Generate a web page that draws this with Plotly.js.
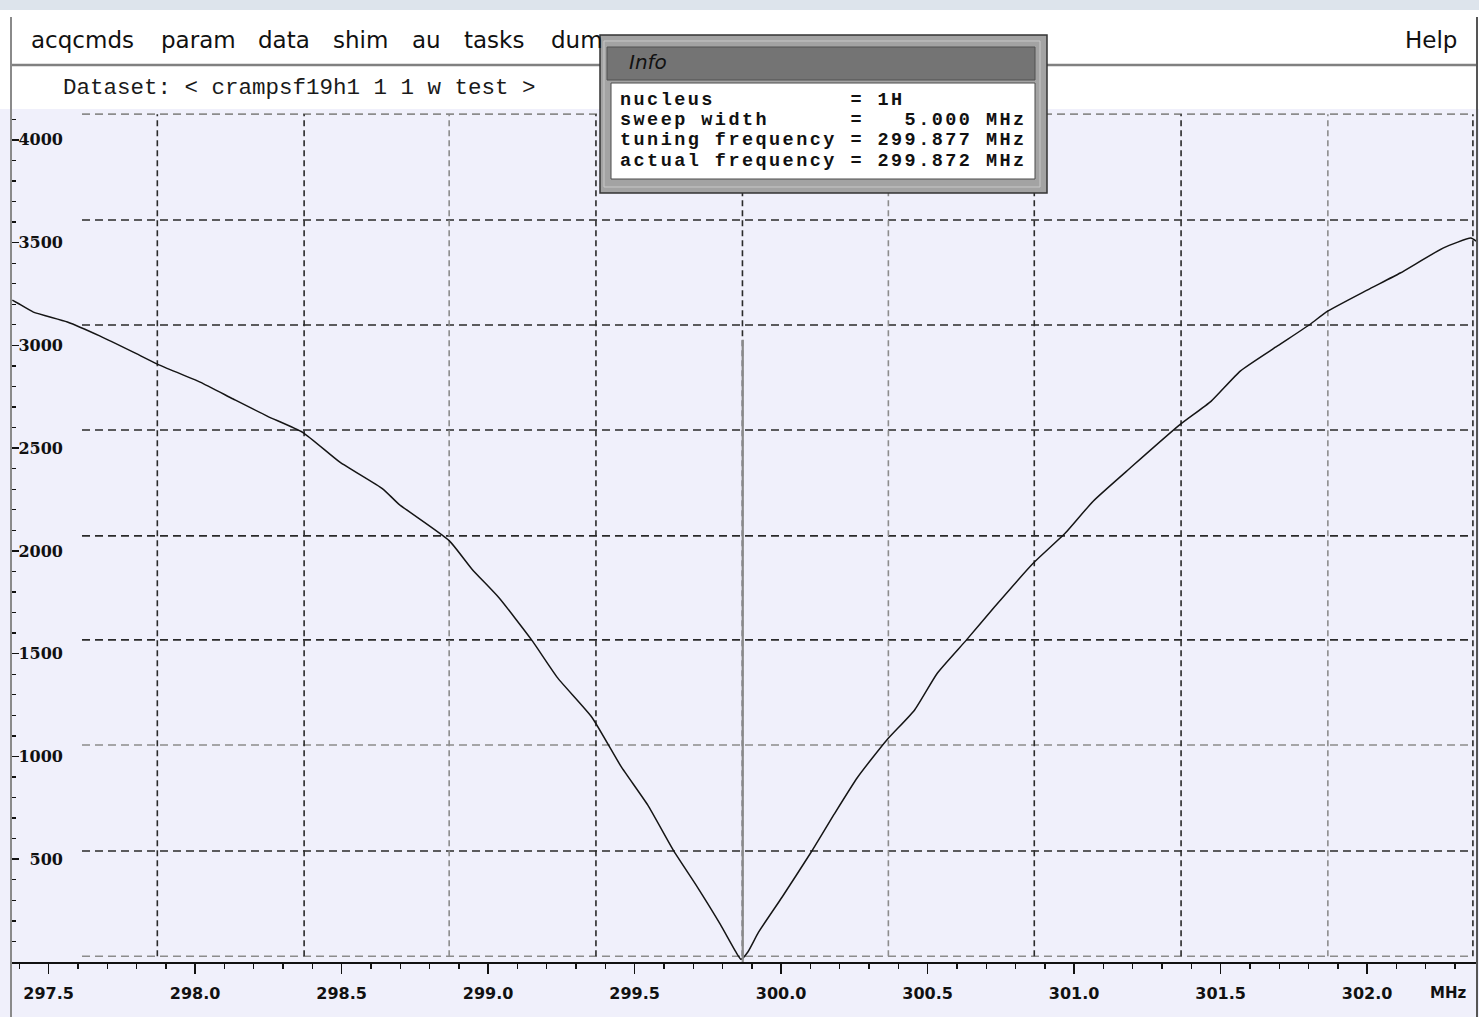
<!DOCTYPE html>
<html>
<head>
<meta charset="utf-8">
<script src="https://cdn.plot.ly/plotly-3.0.1.min.js"></script>
<style>
html,body{margin:0;padding:0;background:#f0f0fb;overflow:hidden}
#chart{width:1479px;height:1017px}
</style>
</head>
<body>
<div id="chart"></div>
<script>
// ---------------- data ----------------
const freqMHz = [
  297.376, 297.395, 297.448, 297.564, 297.676, 297.789, 297.871, 298.017, 298.130, 298.246,
  298.368, 298.494, 298.641, 298.695, 298.867, 298.945, 299.037, 299.149, 299.238, 299.354,
  299.453, 299.545, 299.634, 299.712, 299.792, 299.845, 299.863,
  299.887, 299.923, 300.003, 300.100, 300.181, 300.261, 300.360, 300.455, 300.533, 300.632,
  300.728, 300.861, 300.970, 301.065, 301.195, 301.359, 301.468, 301.567, 301.694, 301.807,
  301.860, 302.000, 302.113, 302.259, 302.354, 302.372
];
const wobbleSignal = [
  3220, 3205, 3162, 3114, 3045, 2967, 2909, 2821, 2739, 2656,
  2576, 2432, 2301, 2228, 2050, 1911, 1772, 1566, 1381, 1191,
  953, 763, 539, 369, 184, 50, 13,
  50, 145, 315, 529, 719, 899, 1079, 1225, 1405, 1566,
  1727, 1941, 2087, 2242, 2408, 2612, 2729, 2875, 2997, 3104,
  3162, 3269, 3352, 3473, 3522, 3507
];
const tuningMarkerFreq = 299.869;
const tuningMarkerTop = 3027;

const xTickValues = [297.5, 298.0, 298.5, 299.0, 299.5, 300.0, 300.5, 301.0, 301.5, 302.0];
const xTickLabels = ['297.5', '298.0', '298.5', '299.0', '299.5', '300.0', '300.5', '301.0', '301.5', '302.0'];
const yTickValues = [500, 1000, 1500, 2000, 2500, 3000, 3500, 4000];
const yTickLabels = ['500', '1000', '1500', '2000', '2500', '3000', '3500', '4000'];
const xUnitLabel = 'MHz';

const gridFreqMHz = [297.871, 298.372, 298.867, 299.368, 299.868, 300.366, 300.864, 301.365, 301.866, 302.361];
const gridSignal = [4125, 3610, 3099, 2588, 2073, 1567, 1056, 540, 28];

const menuItems = ['acqcmds', 'param', 'data', 'shim', 'au', 'tasks', 'dum'];
const helpItem = 'Help';
const datasetText = 'Dataset: < crampsf19h1 1 1 w test >';
const infoTitle = 'Info';
const infoLines = [
  'nucleus          = 1H',
  'sweep width      =   5.000 MHz',
  'tuning frequency = 299.877 MHz',
  'actual frequency = 299.872 MHz'
];

// ---------------- layout helpers (pixel -> paper) ----------------
const W = 1479, H = 1017;
const M = {l: 12, r: 2, t: 109, b: 55};
const PW = W - M.l - M.r, PH = H - M.t - M.b;
const PX = px => (px - M.l) / PW;
const PY = py => (H - M.b - py) / PH;

const shapes = [];
const annotations = [];

// window chrome
shapes.push({type: 'rect', xref: 'paper', yref: 'paper', x0: PX(0), x1: PX(W), y0: PY(0), y1: PY(10),
  fillcolor: '#dde4ec', line: {width: 0}, layer: 'above'});
shapes.push({type: 'rect', xref: 'paper', yref: 'paper', x0: PX(0), x1: PX(W), y0: PY(10), y1: PY(M.t),
  fillcolor: '#ffffff', line: {width: 0}, layer: 'above'});
shapes.push({type: 'line', xref: 'paper', yref: 'paper', x0: PX(11), x1: PX(1477), y0: PY(65), y1: PY(65),
  line: {color: '#808080', width: 2.5}, layer: 'above'});
shapes.push({type: 'line', xref: 'paper', yref: 'paper', x0: PX(11), x1: PX(11), y0: PY(17), y1: PY(H),
  line: {color: '#8a8a8a', width: 2}, layer: 'above'});
shapes.push({type: 'line', xref: 'paper', yref: 'paper', x0: PX(1477), x1: PX(1477), y0: PY(17), y1: PY(H),
  line: {color: '#555555', width: 2}, layer: 'above'});

// dashed grid (instrument screen divisions)
const lightV = new Set([2, 5, 8]);
const lightH = new Set([0, 6, 8]);
gridFreqMHz.forEach((f, i) => {
  shapes.push({type: 'line', xref: 'x', yref: 'y', x0: f, x1: f,
    y0: gridSignal[gridSignal.length - 1], y1: gridSignal[0],
    line: {color: lightV.has(i) ? '#8c8c8c' : '#2a2a2a', width: 1.6, dash: '6px,4px'}, layer: 'below'});
});
gridSignal.forEach((s, i) => {
  shapes.push({type: 'line', xref: 'paper', yref: 'y', x0: PX(82), x1: PX(1472), y0: s, y1: s,
    line: {color: lightH.has(i) ? '#8c8c8c' : '#2a2a2a', width: 1.6, dash: '8px,5px'}, layer: 'below'});
});

// Info box
shapes.push({type: 'rect', xref: 'paper', yref: 'paper', x0: PX(600), x1: PX(1047), y0: PY(193), y1: PY(35),
  fillcolor: '#a3a3a3', line: {color: '#333333', width: 1.5}, layer: 'above'});
shapes.push({type: 'rect', xref: 'paper', yref: 'paper', x0: PX(604), x1: PX(1040), y0: PY(187), y1: PY(41),
  fillcolor: 'rgba(0,0,0,0)', line: {color: '#c8c8c8', width: 1}, layer: 'above'});
shapes.push({type: 'rect', xref: 'paper', yref: 'paper', x0: PX(607), x1: PX(1035), y0: PY(80), y1: PY(47),
  fillcolor: '#747474', line: {color: '#505050', width: 1}, layer: 'above'});
shapes.push({type: 'rect', xref: 'paper', yref: 'paper', x0: PX(611), x1: PX(1035), y0: PY(179), y1: PY(83),
  fillcolor: '#ffffff', line: {color: '#4a4a4a', width: 1}, layer: 'above'});

const nb = s => s.replace(/ /g, '\u00A0');

// menu bar texts
const menuX = [30, 160, 257, 332, 411, 463, 550];
menuItems.forEach((m, i) => {
  annotations.push({xref: 'paper', yref: 'paper', x: PX(menuX[i]), y: PY(40), xanchor: 'left', yanchor: 'middle',
    text: m, showarrow: false, borderpad: 0, font: {family: 'DejaVu Sans', size: 23, color: '#111111'}});
});
annotations.push({xref: 'paper', yref: 'paper', x: PX(1404), y: PY(40), xanchor: 'left', yanchor: 'middle',
  text: helpItem, showarrow: false, borderpad: 0, font: {family: 'DejaVu Sans', size: 23, color: '#111111'}});
annotations.push({xref: 'paper', yref: 'paper', x: PX(62), y: PY(88), xanchor: 'left', yanchor: 'middle',
  text: nb(datasetText), showarrow: false, borderpad: 0,
  font: {family: 'Liberation Mono', size: 22.5, color: '#1a1a1a'}});
annotations.push({xref: 'paper', yref: 'paper', x: PX(628), y: PY(62), xanchor: 'left', yanchor: 'middle',
  text: infoTitle, showarrow: false, borderpad: 0,
  font: {family: 'DejaVu Sans', size: 20, color: '#111111', style: 'italic'}});
const infoY = [100, 120.5, 141, 161.5];
infoLines.forEach((t, i) => {
  annotations.push({xref: 'paper', yref: 'paper', x: PX(619), y: PY(infoY[i]), xanchor: 'left', yanchor: 'middle',
    text: '<span style="letter-spacing:2.45px">' + nb(t) + '</span>', showarrow: false, borderpad: 0,
    font: {family: 'Liberation Mono', size: 18.5, color: '#111111', weight: 'bold'}});
});
annotations.push({xref: 'paper', yref: 'paper', x: PX(1448), y: PY(993), xanchor: 'center', yanchor: 'middle',
  text: xUnitLabel, showarrow: false, borderpad: 0,
  font: {family: 'DejaVu Sans', size: 15, color: '#111111', weight: 'bold'}});

const traces = [
  {x: [tuningMarkerFreq, tuningMarkerFreq], y: [0, tuningMarkerTop], type: 'scatter', mode: 'lines',
   yaxis: 'y2', line: {color: '#8a8a8a', width: 2.2}, hoverinfo: 'skip', showlegend: false},
  {x: freqMHz, y: wobbleSignal, type: 'scatter', mode: 'lines',
   line: {color: '#151515', width: 1.5, shape: 'spline', smoothing: 0.5}, showlegend: false}
];

const yRange = [0, 4150];
const layout = {
  width: W, height: H,
  margin: M,
  paper_bgcolor: '#f0f0fb',
  plot_bgcolor: '#f0f0fb',
  showlegend: false,
  xaxis: {
    range: [297.375, 302.375], showgrid: false, zeroline: false,
    showline: true, linecolor: '#111111', linewidth: 2,
    tickmode: 'array', tickvals: xTickValues, ticktext: xTickLabels,
    ticks: 'outside', ticklen: 10, tickwidth: 1.6, tickcolor: '#111111',
    ticklabelstandoff: 6,
    tickfont: {family: 'DejaVu Sans', size: 16, color: '#111111', weight: 'bold'},
    minor: {ticks: 'outside', ticklen: 5, tickwidth: 1.4, tickcolor: '#111111', dtick: 0.1, tick0: 297.5, showgrid: false}
  },
  yaxis: {
    range: yRange, showgrid: false, zeroline: false,
    showline: true, linecolor: '#111111', linewidth: 2,
    tickmode: 'linear', tick0: 0, dtick: 500, showticklabels: false,
    ticks: 'inside', ticklen: 7, tickwidth: 1.6, tickcolor: '#111111',
    minor: {ticks: 'inside', ticklen: 4, tickwidth: 1.3, tickcolor: '#111111', dtick: 100, tick0: 0, showgrid: false}
  },
  yaxis2: {
    range: yRange, overlaying: 'y', anchor: 'free', position: PX(63), side: 'left',
    showgrid: false, zeroline: false, showline: false, ticks: '',
    tickmode: 'array', tickvals: yTickValues, ticktext: yTickLabels,
    tickfont: {family: 'DejaVu Serif', size: 16, color: '#111111', weight: 'bold'}
  },
  shapes: shapes,
  annotations: annotations
};

Plotly.newPlot('chart', traces, layout, {displayModeBar: false, staticPlot: true});
</script>
</body>
</html>
